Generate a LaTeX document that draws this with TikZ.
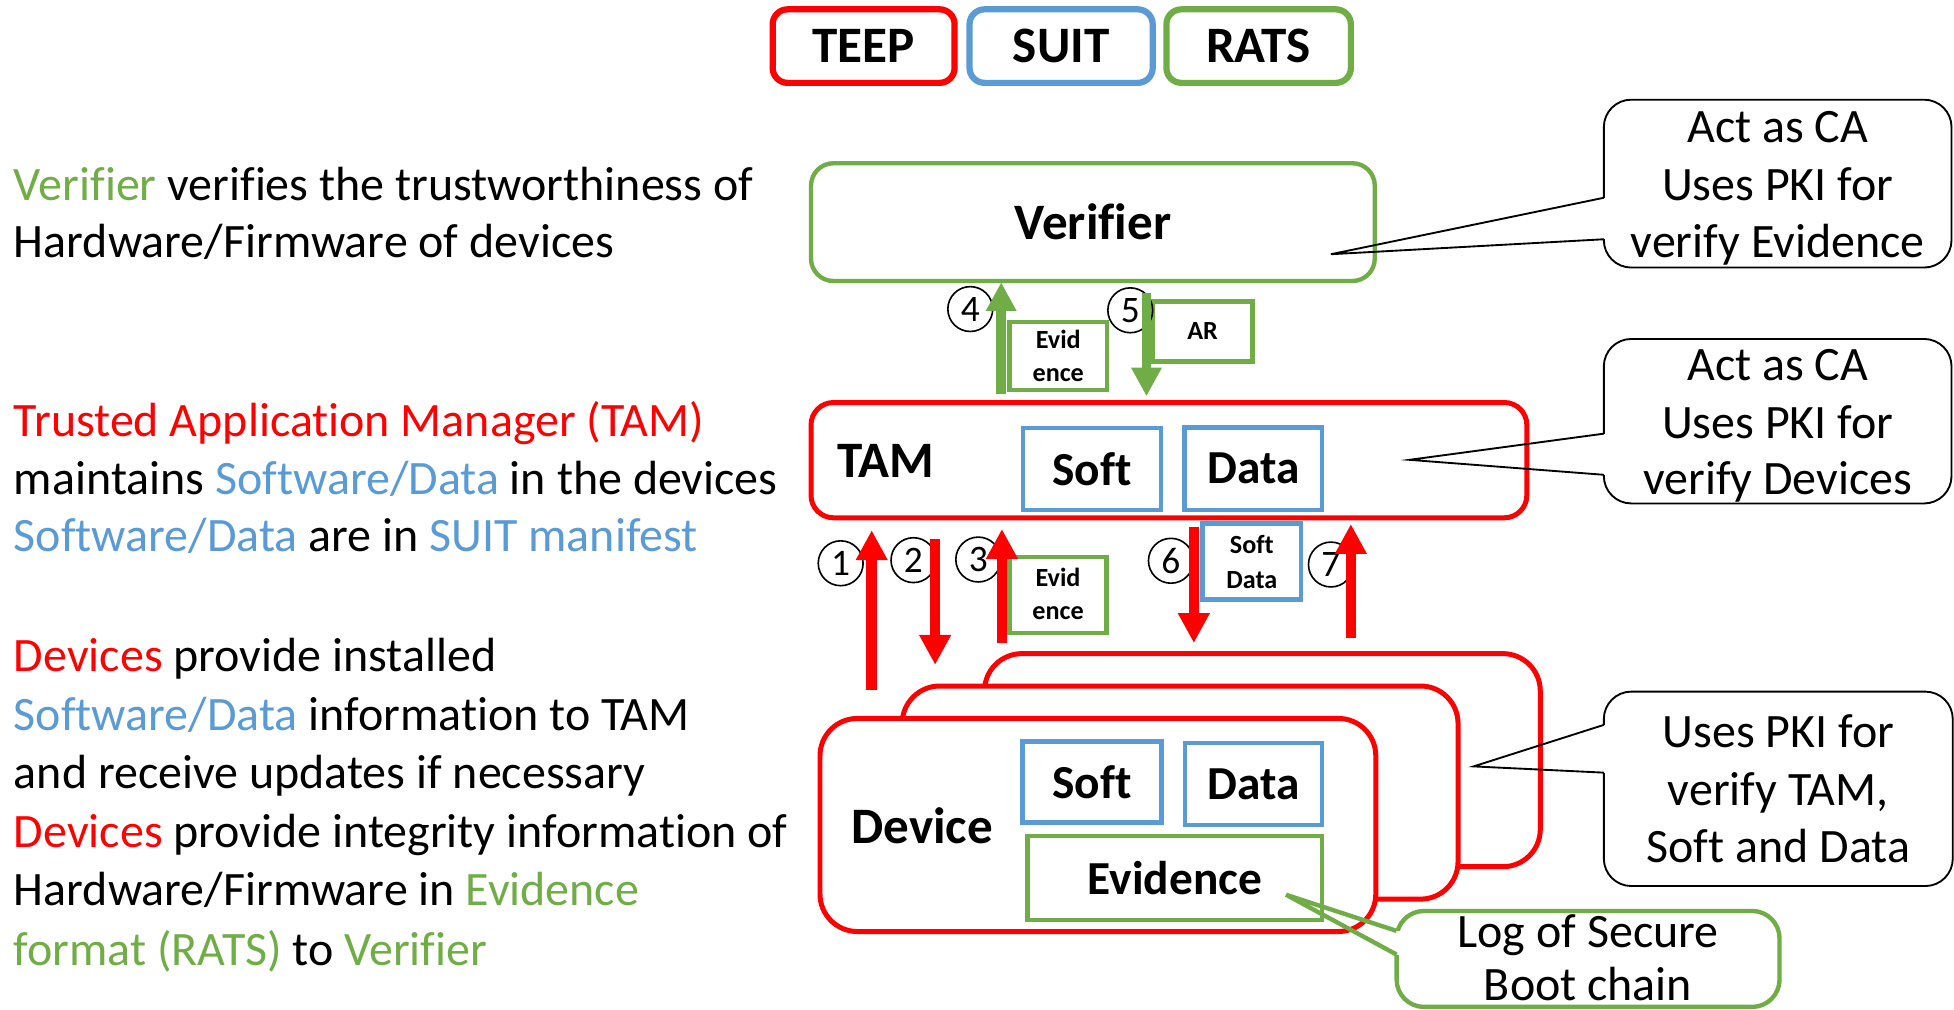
\documentclass[tikz,border=0pt]{standalone}
\usepackage{fontspec}
\setmainfont{Carlito}[Ligatures=NoCommon]
\usetikzlibrary{arrows.meta}
\definecolor{tred}{HTML}{FF0000}
\definecolor{tblue}{HTML}{5B9BD5}
\definecolor{tgreen}{HTML}{70AD47}
\newcommand{\fsz}[1]{\fontsize{#1}{#1}\selectfont}

\begin{document}
\begin{tikzpicture}[x=1pt,y=-1pt,
  box/.style={rectangle, inner sep=0pt, outer sep=0pt},
  legendbox/.style={box, fill=white, line width=5pt, rounded corners=12pt,
    minimum height=59pt, font=\fsz{41}\bfseries},
  bigbox/.style={box, fill=white, line width=4pt, rounded corners=18pt, font=\fsz{41}\bfseries},
  devbox/.style={box, fill=white, draw=tred, line width=4pt, rounded corners=30pt,
    minimum width=446pt, minimum height=171pt},
  itembox/.style={box, line width=3.5pt, font=\fsz{38}\bfseries},
  tagbox/.style={box, draw=tgreen, line width=3.5pt, font=\fsz{21}\bfseries},
  tagline/.style={anchor=base, inner sep=0pt, font=\fsz{21}\bfseries},
  bold/.style={inner sep=0pt, font=\fsz{41}\bfseries},
  lt/.style={anchor=base west, inner sep=0pt, font=\fsz{38.5}},
  ct/.style={anchor=base, inner sep=0pt, font=\fsz{38.5}},
  callout/.style={box, draw=black, line width=1.5pt, rounded corners=22pt},
  coline/.style={draw=black, line width=1.5pt, line join=miter},
  stepnum/.style={circle, draw=black, line width=1.3pt, minimum size=36pt,
    inner sep=0pt, font=\fsz{30}},
  rarrow/.style={draw=tred, line width=8.5pt, -{Triangle[width=24pt,length=24pt]}},
  garrow/.style={draw=tgreen, line width=7.7pt, -{Triangle[width=23pt,length=23pt]}}
]
\fill[white] (0,0) rectangle (1568,810);
\useasboundingbox (0,0) rectangle (1568,810);

% legend
\node[legendbox, draw=tred,   minimum width=146pt] (teep) at (693,37)    {TEEP};
\node[legendbox, draw=tblue,  minimum width=147pt] (suit) at (851.5,37)  {SUIT};
\node[legendbox, draw=tgreen, minimum width=148pt] (rats) at (1010,37)   {RATS};

% left-hand description
\node[lt] (l1)  at (11,160.5) {\textcolor{tgreen}{Verifier} verifies the trustworthiness of};
\node[lt] (l2)  at (11,207)   {Hardware/Firmware of devices};
\node[lt] (l3)  at (11,350.5) {\textcolor{tred}{Trusted Application Manager (TAM)}};
\node[lt] (l4)  at (11,396.5) {maintains \textcolor{tblue}{Software/Data} in the devices};
\node[lt] (l5)  at (11,442.5) {\textcolor{tblue}{Software/Data} are in \textcolor{tblue}{SUIT manifest}};
\node[lt] (l6)  at (11,539)   {\textcolor{tred}{Devices} provide installed};
\node[lt] (l7)  at (11,586)   {\textcolor{tblue}{Software/Data} information to TAM};
\node[lt] (l8)  at (11,633)   {and receive updates if necessary};
\node[lt] (l9)  at (11,680)   {\textcolor{tred}{Devices} provide integrity information of};
\node[lt] (l10) at (11,727)   {Hardware/Firmware in \textcolor{tgreen}{Evidence}};
\node[lt] (l11) at (11,774.5) {\textcolor{tgreen}{format (RATS)} to \textcolor{tgreen}{Verifier}};

% Verifier and TAM
\node[bigbox, draw=tgreen, line width=3.5pt, minimum width=452.4pt, minimum height=94.5pt]
  (ver) at (877,178.25) {Verifier};
\node[bigbox, draw=tred, minimum width=574.4pt, minimum height=92.5pt] (tam) at (938,369.25) {};
\node[bold, anchor=west] (tamlbl) at (672,370) {TAM};
\node[itembox, draw=tblue, minimum width=110.5pt, minimum height=65.4pt] (tsoft) at (876.2,376.3) {Soft};
\node[itembox, draw=tblue, minimum width=110.5pt, minimum height=66pt]   (tdata) at (1005.8,376) {Data};

% devices, back to front
\node[devbox] (back)  at (1013,610) {};
\node[devbox] (mid)   at (947,636)  {};
\node[devbox] (front) at (881,662)  {};
\node[bold, anchor=west] (devlbl) at (683,663) {Device};
\node[itembox, draw=tblue, minimum width=111.5pt, minimum height=65pt] (dsoft) at (876.2,627.5) {Soft};
\node[itembox, draw=tblue, minimum width=110pt, minimum height=66pt]   (ddata) at (1006,629) {Data};
\node[itembox, draw=tgreen, minimum width=236.4pt, minimum height=67pt] (devev) at (942.8,704.5) {Evidence};

% message tags
\node[tagbox, minimum width=78.5pt, minimum height=54.5pt] (ev1) at (849.2,285.75) {};
\node[tagline] (ev1a) at (849.2,280)   {Evid};
\node[tagline] (ev1b) at (849.2,306.5) {ence};
\node[tagbox, minimum width=80pt, minimum height=48pt] (ar) at (965,266) {AR};
\node[tagbox, minimum width=78pt, minimum height=61pt] (ev2) at (849,477.5) {};
\node[tagline] (ev2a) at (849,471)   {Evid};
\node[tagline] (ev2b) at (849,497.5) {ence};
\node[tagbox, draw=tblue, minimum width=79pt, minimum height=61pt] (sd) at (1004.5,450.5) {};
\node[tagline] (sda) at (1004.5,444) {Soft};
\node[tagline] (sdb) at (1004.5,472) {Data};

% step numbers
\node[stepnum] (n1) at (674.6,452)  {1};
\node[stepnum] (n2) at (733,449.5)  {2};
\node[stepnum] (n3) at (785,449)    {3};
\node[stepnum] (n4) at (778.6,248)  {4};
\node[stepnum] (n5) at (907,249)    {5};
\node[stepnum] (n6) at (939.6,450)  {6};
\node[stepnum] (n7) at (1068,453)   {7};

% message arrows
\coordinate (x1) at (699.5,0);
\coordinate (x2) at (750.4,0);
\coordinate (x3) at (804,0);
\coordinate (x4) at (803.4,0);
\coordinate (x5) at (920,0);
\coordinate (x6) at (958,0);
\coordinate (x7) at (1084,0);
\draw[garrow, shorten <=7pt, shorten >=1pt]  (x4 |- tam.north) -- (x4 |- ver.south);
\draw[garrow, shorten <=10pt, shorten >=5pt] (x5 |- ver.south) -- (x5 |- tam.north);
\draw[rarrow, shorten <=22.5pt, shorten >=10pt] (x1 |- front.north) -- (x1 |- tam.south);
\draw[rarrow, shorten <=17pt, shorten >=17pt]   (x2 |- tam.south) -- (x2 |- mid.north);
\draw[rarrow, shorten <=8.5pt, shorten >=9pt]   (x3 |- back.north) -- (x3 |- tam.south);
\draw[rarrow, shorten <=7pt, shorten >=8.5pt]   (x6 |- tam.south) -- (x6 |- back.north);
\draw[rarrow, shorten <=12.5pt, shorten >=5pt]  (x7 |- back.north) -- (x7 |- tam.south);

% callouts
\node[callout, minimum width=279pt, minimum height=134.7pt] (co1) at (1426.5,147.35) {};
\node[ct] (co1a) at (1426.5,114.7) {Act as CA};
\node[ct] (co1b) at (1426.5,160.5) {Uses PKI for};
\node[ct] (co1c) at (1426.5,206.5) {verify Evidence};
\coordinate (p1a) at (1287,158.7);
\coordinate (p1b) at (1287,192);
\coordinate (p1t) at (1068,204);
\fill[white] ([xshift=-1.5pt]p1a) rectangle ([xshift=1.5pt]p1b);
\draw[coline] (p1a) -- (p1t) -- (p1b);

\node[callout, minimum width=279pt, minimum height=132pt] (co2) at (1426.5,338) {};
\node[ct] (co2a) at (1426.5,305.4) {Act as CA};
\node[ct] (co2b) at (1426.5,351.5) {Uses PKI for};
\node[ct] (co2c) at (1426.5,396.5) {verify Devices};
\coordinate (p2a) at (1287,348);
\coordinate (p2b) at (1287,381);
\coordinate (p2t) at (1131,369);
\fill[white] ([xshift=-1.5pt]p2a) rectangle ([xshift=1.5pt]p2b);
\draw[coline] (p2a) -- (p2t) -- (p2b);

\node[callout, minimum width=280pt, minimum height=156pt] (co3) at (1427,633) {};
\node[ct] (co3a) at (1427,600) {Uses PKI for};
\node[ct] (co3b) at (1427,646) {verify TAM,};
\node[ct] (co3c) at (1427,692) {Soft and Data};
\coordinate (p3a) at (1287,581.7);
\coordinate (p3b) at (1287,620);
\coordinate (p3t) at (1182.5,615);
\fill[white] ([xshift=-1.5pt]p3a) rectangle ([xshift=1.5pt]p3b);
\draw[coline] (p3a) -- (p3t) -- (p3b);

\node[callout, draw=tgreen, line width=3.5pt, minimum width=307.3pt, minimum height=77pt] (co4) at (1274.35,769.5) {};
\node[ct] (co4a) at (1274.35,760) {Log of Secure};
\node[ct] (co4b) at (1274.35,803) {Boot chain};
\coordinate (p4a) at (1120.7,747);
\coordinate (p4b) at (1120.7,766);
\coordinate (p4t) at (1032,718);
\fill[white] ([xshift=-2.5pt]p4a) rectangle ([xshift=2.5pt]p4b);
\draw[coline, draw=tgreen, line width=3.5pt] (p4a) -- (p4t) -- (p4b);
\end{tikzpicture}
\end{document}
